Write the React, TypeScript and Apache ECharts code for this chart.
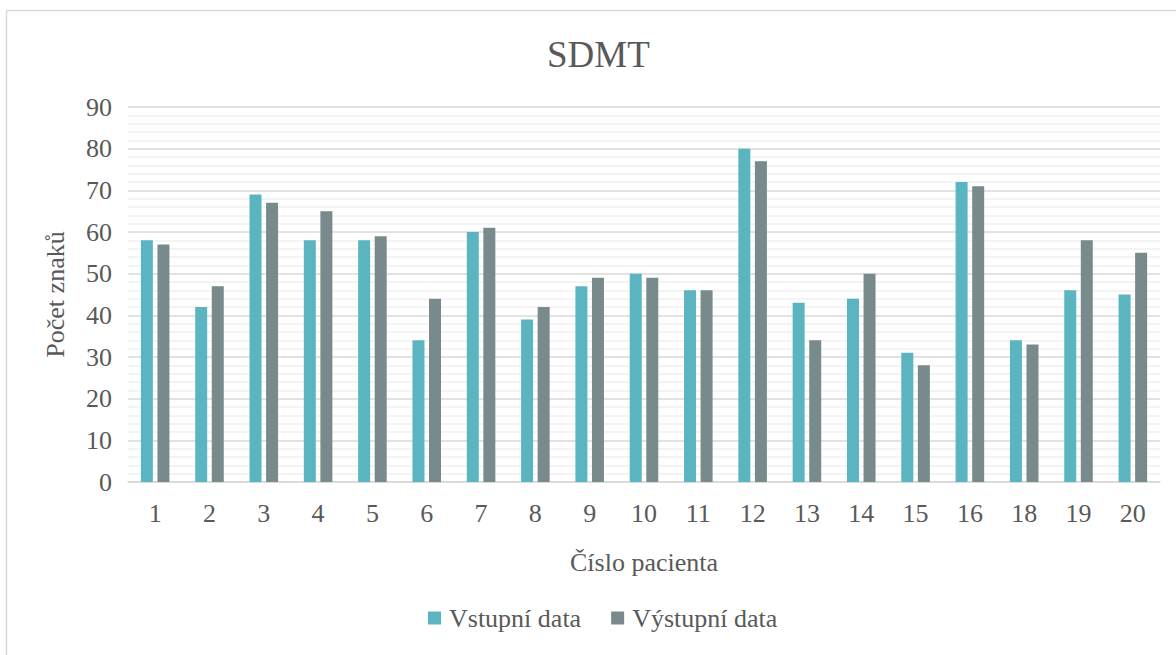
import React, { useEffect, useRef } from "react";
import * as echarts from "echarts";

const categories = ["1", "2", "3", "4", "5", "6", "7", "8", "9", "10", "11", "12", "13", "14", "15", "16", "18", "19", "20"];
const vstupni = [58, 42, 69, 58, 58, 34, 60, 39, 47, 50, 46, 80, 43, 44, 31, 72, 34, 46, 45];
const vystupni = [57, 47, 67, 65, 59, 44, 61, 42, 49, 49, 46, 77, 34, 50, 28, 71, 33, 58, 55];
const seriesNames = ["Vstupní data", "Výstupní data"];

const FONT = "'Liberation Serif', 'Times New Roman', serif";
const TXT = "#595959";
const FS = 26;

export default function App() {
  const ref = useRef<HTMLDivElement>(null);
  useEffect(() => {
    const chart = echarts.init(ref.current!, null, { renderer: "svg" });
    chart.setOption({
      animation: false,
      backgroundColor: "#ffffff",
      textStyle: { fontFamily: FONT, color: TXT },
      title: {
        text: "SDMT",
        left: 542,
        top: 31,
        textStyle: { fontFamily: FONT, fontSize: 37, fontWeight: "normal", color: TXT },
      },
      graphic: [
        {
          type: "rect",
          z: -10,
          shape: { x: 6.5, y: 10.5, width: 1300, height: 800 },
          style: { fill: "none", stroke: "#D9D9D9", lineWidth: 1.5 },
        },
      ],
      legend: {
        bottom: 19,
        left: 423,
        itemWidth: 13,
        itemHeight: 13,
        itemGap: 30,
        icon: "rect",
        textStyle: { fontFamily: FONT, fontSize: FS, color: TXT, padding: [0, 0, 0, 3] },
        data: seriesNames,
      },
      grid: { left: 128, right: 16, top: 107, bottom: 173 },
      xAxis: {
        type: "category",
        data: categories,
        name: "Číslo pacienta",
        nameLocation: "middle",
        nameGap: 67,
        nameTextStyle: { fontFamily: FONT, fontSize: FS, color: TXT },
        axisLine: { lineStyle: { color: "#D9D9D9", width: 1.5 } },
        axisTick: { show: false },
        axisLabel: { fontFamily: FONT, fontSize: FS, color: TXT, margin: 18 },
      },
      yAxis: {
        type: "value",
        min: 0,
        max: 90,
        interval: 10,
        name: "Počet znaků",
        nameLocation: "middle",
        nameGap: 60,
        nameTextStyle: { fontFamily: FONT, fontSize: FS, color: TXT },
        axisLine: { show: false },
        axisTick: { show: false },
        axisLabel: { fontFamily: FONT, fontSize: FS, color: TXT, margin: 16 },
        splitLine: { lineStyle: { color: "#D9D9D9", width: 1.5 } },
        minorTick: { show: false, splitNumber: 5 },
        minorSplitLine: { show: true, lineStyle: { color: "#F0F0F0", width: 1.5 } },
      },
      series: [
        {
          name: seriesNames[0],
          type: "bar",
          data: vstupni,
          barWidth: 12,
          barGap: "38%",
          itemStyle: { color: "#5BB5C0" },
        },
        {
          name: seriesNames[1],
          type: "bar",
          data: vystupni,
          barWidth: 12,
          itemStyle: { color: "#798A8D" },
        },
      ],
    });
    return () => chart.dispose();
  }, []);
  return (
    <div
      ref={ref}
      style={{ position: "absolute", left: 0, top: 0, width: 1176, height: 655 }}
    />
  );
}
